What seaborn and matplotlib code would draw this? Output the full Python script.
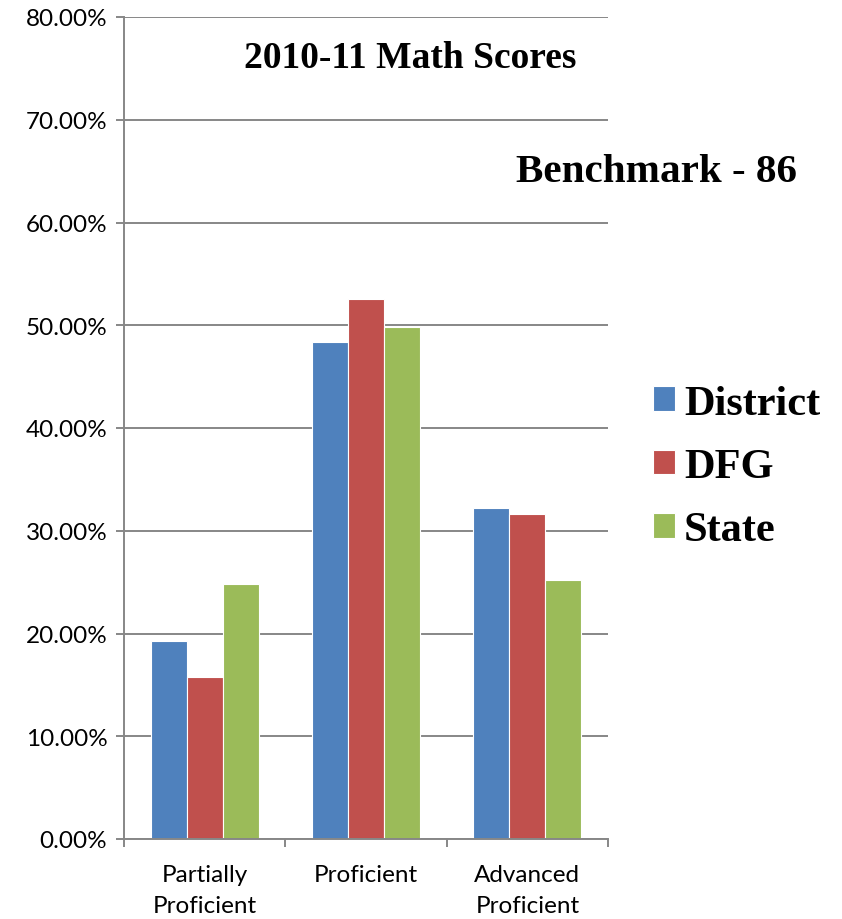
import matplotlib
matplotlib.use("Agg")
import matplotlib.pyplot as plt
import seaborn as sns
import pandas as pd
from matplotlib.ticker import PercentFormatter, FixedLocator

categories = ["Partially\nProficient", "Proficient", "Advanced\nProficient"]
series_names = ["District", "DFG", "State"]
district = [19.3, 48.4, 32.2]
dfg = [15.8, 52.55, 31.6]
state = [24.8, 49.85, 25.25]
colors = ["#4F81BD", "#C0504D", "#9BBB59"]
title_text = "2010-11 Math Scores"
subtitle_text = "Benchmark - 86"

rows = []
for name, vals in zip(series_names, [district, dfg, state]):
    for c, v in zip(categories, vals):
        rows.append({"Category": c, "Series": name, "Value": v})
df = pd.DataFrame(rows)

sns.set_theme(style="white")
plt.rcParams["font.family"] = ["Lato", "DejaVu Sans"]
plt.rcParams["text.color"] = "black"

fig = plt.figure(figsize=(8.42, 9.2), dpi=100)
ax = fig.add_axes([124 / 842, 1 - 840 / 920, 484 / 842, 822 / 920])

sns.barplot(data=df, x="Category", y="Value", hue="Series", order=categories,
            hue_order=series_names, palette=colors, saturation=1, width=0.67, gap=0,
            edgecolor="white", linewidth=0.8, ax=ax, legend=True)

ax.set_ylim(0, 80)
ax.set_xlim(-0.5, 2.5)
ax.set_yticks(range(0, 81, 10))
ax.yaxis.set_major_formatter(PercentFormatter(xmax=100, decimals=2))
ax.yaxis.grid(True, color="#878787", linewidth=1.4)
ax.set_axisbelow(True)
ax.set_xlabel("")
ax.set_ylabel("")

for s in ["top", "right"]:
    ax.spines[s].set_visible(False)
for s in ["left", "bottom"]:
    ax.spines[s].set_color("#878787")
    ax.spines[s].set_linewidth(1.4)

ax.tick_params(axis="y", which="major", direction="out", length=6, width=1.4,
               color="#878787", labelsize=17.5, labelcolor="black", pad=6, left=True)
ax.tick_params(axis="x", which="major", length=0, labelsize=17.5, labelcolor="black", pad=18)
ax.xaxis.set_minor_locator(FixedLocator([-0.5, 0.5, 1.5, 2.5]))
ax.tick_params(axis="x", which="minor", direction="out", length=6, width=1.4,
               color="#878787", bottom=True)
for lbl in ax.get_xticklabels():
    lbl.set_linespacing(1.6)

ax.text(0.591, 0.951, title_text, transform=ax.transAxes, ha="center", va="center",
        fontsize=27, fontweight="bold", family="Liberation Serif", color="black")
fig.text(657 / 842, 1 - 173 / 920, subtitle_text, ha="center", va="center",
         fontsize=29.6, fontweight="bold", family="Liberation Serif", color="black")

handles, labels = ax.get_legend_handles_labels()
ax.legend_.remove()
leg = fig.legend(handles, labels, loc="center left", bbox_to_anchor=(653 / 842, 1 - 468 / 920),
                 frameon=False, borderpad=0, borderaxespad=0, handlelength=0.53,
                 handleheight=0.53, handletextpad=0.2, labelspacing=0.6,
                 prop={"family": "Liberation Serif", "weight": "bold", "size": 30.5})
for t in leg.get_texts():
    t.set_color("black")

fig.savefig("out.png", dpi=100)
